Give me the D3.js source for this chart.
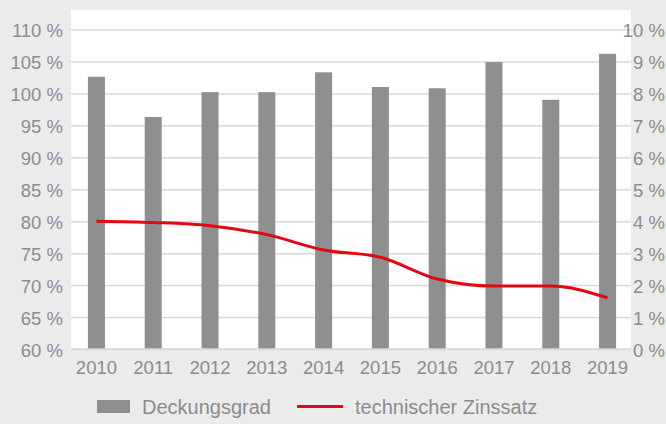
<!DOCTYPE html>
<html>
<head>
    <meta charset="utf-8">
    <title>Deckungsgrad und technischer Zinssatz</title>
    <script src="https://d3js.org/d3.v7.min.js" charset="utf-8"></script>
    <style>
        html, body {
            margin: 0;
            padding: 0;
            background: #ebebeb;
        }
        svg text {
            font-family: "Liberation Sans", Arial, sans-serif;
            fill: #8c8c8c;
        }
    </style>
</head>
<body>
<div id="chart"></div>
<script>
    // data
    const years = ["2010", "2011", "2012", "2013", "2014", "2015", "2016", "2017", "2018", "2019"];
    const deckungsgrad = [102.6, 96.3, 100.2, 100.2, 103.3, 101.0, 100.8, 104.9, 99.0, 106.2];
    const zinssatz = [4.0, 3.96, 3.86, 3.58, 3.1, 2.87, 2.19, 1.97, 1.97, 1.6];
    const leftTicks = [60, 65, 70, 75, 80, 85, 90, 95, 100, 105, 110];
    const rightTicks = [0, 1, 2, 3, 4, 5, 6, 7, 8, 9, 10];
    const legendLabels = ["Deckungsgrad", "technischer Zinssatz"];

    const width = 666;
    const height = 424;
    const plot = { left: 71, right: 631, top: 10, bottom: 349 };

    const svg = d3.select("#chart")
        .append("svg")
        .attr("width", width)
        .attr("height", height);

    // white plot area
    svg.append("rect")
        .attr("x", plot.left)
        .attr("y", plot.top)
        .attr("width", plot.right - plot.left)
        .attr("height", plot.bottom - plot.top)
        .attr("fill", "#ffffff");

    // scales
    const x = d3.scaleBand()
        .domain(years)
        .range([plot.left + 1, plot.right + 1])
        .paddingInner(0.7)
        .paddingOuter(0.28);
    const yLeft = d3.scaleLinear()
        .domain([60, 110])
        .range([plot.bottom, 29.5]);
    const yRight = d3.scaleLinear()
        .domain([0, 10])
        .range([plot.bottom, 29.5]);

    // gridlines
    const grid = svg.append("g")
        .attr("transform", `translate(${plot.left}, 0)`)
        .call(d3.axisRight(yLeft)
            .tickValues(leftTicks)
            .tickSize(plot.right - plot.left)
            .tickFormat(""));
    grid.select(".domain").remove();
    grid.selectAll("line")
        .attr("stroke", "#d9d9d9")
        .attr("stroke-width", 1.5);

    // left axis labels
    const leftAxis = svg.append("g")
        .attr("transform", `translate(63, 0)`)
        .call(d3.axisLeft(yLeft)
            .tickValues(leftTicks)
            .tickSize(0)
            .tickPadding(0)
            .tickFormat(d => d + " %"));
    leftAxis.select(".domain").remove();
    leftAxis.selectAll("text")
        .style("font-size", "18.5px")
        .attr("dy", "0.4em");

    // right axis labels
    const rightAxis = svg.append("g")
        .attr("transform", `translate(665, 0)`)
        .call(d3.axisLeft(yRight)
            .tickValues(rightTicks)
            .tickSize(0)
            .tickPadding(0)
            .tickFormat(d => d + " %"));
    rightAxis.select(".domain").remove();
    rightAxis.selectAll("text")
        .style("font-size", "18.5px")
        .attr("dy", "0.4em");

    // bars
    svg.selectAll(".bar")
        .data(years)
        .enter()
        .append("rect")
        .attr("class", "bar")
        .attr("x", d => x(d))
        .attr("width", x.bandwidth())
        .attr("y", (d, i) => yLeft(deckungsgrad[i]))
        .attr("height", (d, i) => plot.bottom - yLeft(deckungsgrad[i]))
        .attr("fill", "#8f8f8f");

    // baseline gridline on top of bars
    svg.append("line")
        .attr("x1", plot.left)
        .attr("x2", plot.right)
        .attr("y1", yLeft(60))
        .attr("y2", yLeft(60))
        .attr("stroke", "#d9d9d9")
        .attr("stroke-width", 1.5);

    // x axis labels
    const xAxis = svg.append("g")
        .attr("transform", `translate(0, ${plot.bottom})`)
        .call(d3.axisBottom(x).tickSize(0).tickPadding(12));
    xAxis.select(".domain").remove();
    xAxis.selectAll("text")
        .style("font-size", "18.5px");

    // line
    const line = d3.line()
        .x((d, i) => x(years[i]) + x.bandwidth() / 2)
        .y(d => yRight(d))
        .curve(d3.curveMonotoneX);

    svg.append("path")
        .datum(zinssatz)
        .attr("fill", "none")
        .attr("stroke", "#e30613")
        .attr("stroke-width", 3)
        .attr("stroke-linejoin", "round")
        .attr("d", line);

    // legend
    const legend = svg.append("g");
    legend.append("rect")
        .attr("x", 97)
        .attr("y", 400)
        .attr("width", 33)
        .attr("height", 13)
        .attr("fill", "#8f8f8f");
    legend.append("text")
        .attr("x", 142)
        .attr("y", 414)
        .style("font-size", "20px")
        .text(legendLabels[0]);
    legend.append("line")
        .attr("x1", 297)
        .attr("x2", 343)
        .attr("y1", 406.5)
        .attr("y2", 406.5)
        .attr("stroke", "#e30613")
        .attr("stroke-width", 3);
    legend.append("text")
        .attr("x", 355)
        .attr("y", 414)
        .style("font-size", "20px")
        .text(legendLabels[1]);
</script>
</body>
</html>
